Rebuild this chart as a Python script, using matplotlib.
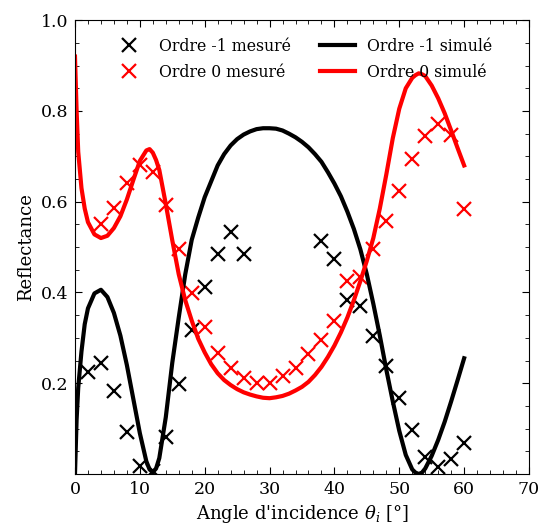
import matplotlib
matplotlib.use("Agg")
import matplotlib.pyplot as plt
from matplotlib.ticker import MultipleLocator

plt.rcParams['font.family'] = ['DejaVu Serif']
plt.rcParams['mathtext.fontset'] = 'dejavuserif'

# mesures (angles pairs)
ang_m1 = [2, 4, 6, 8, 10, 12, 14, 16, 18, 20, 22, 24, 26,
          38, 40, 42, 44, 46, 48, 50, 52, 54, 56, 58, 60]
r_m1 = [0.225, 0.245, 0.183, 0.092, 0.018, 0.007, 0.082, 0.198, 0.318, 0.413, 0.485, 0.534, 0.485,
        0.514, 0.473, 0.383, 0.371, 0.305, 0.237, 0.168, 0.098, 0.038, 0.015, 0.033, 0.069]

ang_0 = [4, 6, 8, 10, 12, 14, 16, 18, 20, 22, 24, 26, 28, 30, 32, 34, 36,
         38, 40, 42, 44, 46, 48, 50, 52, 54, 56, 58, 60]
r_0 = [0.550, 0.586, 0.641, 0.680, 0.666, 0.593, 0.495, 0.398, 0.323, 0.267, 0.234, 0.211, 0.201,
       0.201, 0.216, 0.233, 0.264, 0.295, 0.337, 0.425, 0.435, 0.495, 0.558, 0.624, 0.694,
       0.745, 0.771, 0.746, 0.583]

# simulations
ang_sim = [0, 0.25, 0.5, 1, 1.5, 2, 3, 4, 5, 6, 7, 8, 9, 10, 11, 11.5, 12, 12.5, 13, 14, 15,
           16, 17, 18, 19, 20, 21, 22, 23, 24, 25, 26, 27, 28, 29, 30, 31, 32, 33, 34, 35,
           36, 37, 38, 39, 40, 41, 42, 43, 44, 45, 46, 47, 48, 49, 50, 51, 52, 52.5, 53, 53.5,
           54, 55, 56, 57, 58, 59, 60]
sim_m1 = [0.0, 0.12, 0.19, 0.27, 0.33, 0.365, 0.398, 0.406, 0.39, 0.355, 0.305, 0.24, 0.165,
          0.09, 0.028, 0.010, 0.004, 0.012, 0.035, 0.125, 0.245,
          0.345, 0.44, 0.516, 0.565, 0.61, 0.645, 0.68, 0.705, 0.724, 0.738, 0.748, 0.755,
          0.76, 0.762, 0.762, 0.761, 0.757, 0.75, 0.742, 0.732,
          0.72, 0.705, 0.688, 0.665, 0.64, 0.612, 0.578, 0.54, 0.495, 0.44, 0.375, 0.305,
          0.23, 0.16, 0.095, 0.042, 0.01, 0.003, 0.0, 0.003,
          0.012, 0.04, 0.075, 0.115, 0.16, 0.207, 0.255]
sim_0 = [0.92, 0.80, 0.71, 0.63, 0.585, 0.555, 0.528, 0.52, 0.525, 0.542, 0.568, 0.605, 0.648,
         0.69, 0.713, 0.716, 0.708, 0.692, 0.67, 0.595, 0.515,
         0.440, 0.383, 0.338, 0.298, 0.268, 0.242, 0.222, 0.207, 0.196, 0.187, 0.180, 0.175,
         0.171, 0.168, 0.167, 0.169, 0.172, 0.177, 0.184, 0.192,
         0.203, 0.218, 0.236, 0.258, 0.283, 0.312, 0.345, 0.383, 0.425, 0.47, 0.52, 0.585,
         0.66, 0.74, 0.805, 0.85, 0.873, 0.879, 0.883, 0.881,
         0.877, 0.856, 0.828, 0.795, 0.757, 0.718, 0.68]

fig = plt.figure(figsize=(5.41, 5.27), dpi=100)
ax = fig.add_axes([0.1386, 0.1006, 0.8392, 0.861])

ax.plot(ang_m1, r_m1, 'x', color='black', ms=10, mew=1.6, label='Ordre -1 mesuré')
ax.plot(ang_0, r_0, 'x', color='red', ms=10, mew=1.6, label='Ordre 0 mesuré')
ax.plot(ang_sim, sim_m1, '-', color='black', lw=3, label='Ordre -1 simulé')
ax.plot(ang_sim, sim_0, '-', color='red', lw=3, label='Ordre 0 simulé')

ax.set_xlim(0, 70)
ax.set_ylim(0, 1.0)
ax.set_xticks(range(0, 71, 10))
ax.set_yticks([0.2, 0.4, 0.6, 0.8, 1.0])
ax.xaxis.set_minor_locator(MultipleLocator(2))
ax.yaxis.set_minor_locator(MultipleLocator(0.05))
ax.tick_params(which='both', direction='in', top=True, right=True, labelsize=12.5)
ax.tick_params(which='major', length=5, pad=5)
ax.tick_params(which='minor', length=3)

ax.set_xlabel(r"Angle d'incidence $\theta_i$ [°]", fontsize=13)
ax.set_ylabel("Reflectance", fontsize=13)

ax.legend(loc='upper center', ncol=2, frameon=False, numpoints=1, fontsize=11.3,
          handlelength=2.2, columnspacing=1.9, labelspacing=0.6, borderaxespad=0.7)

fig.savefig("out.png", dpi=100)
